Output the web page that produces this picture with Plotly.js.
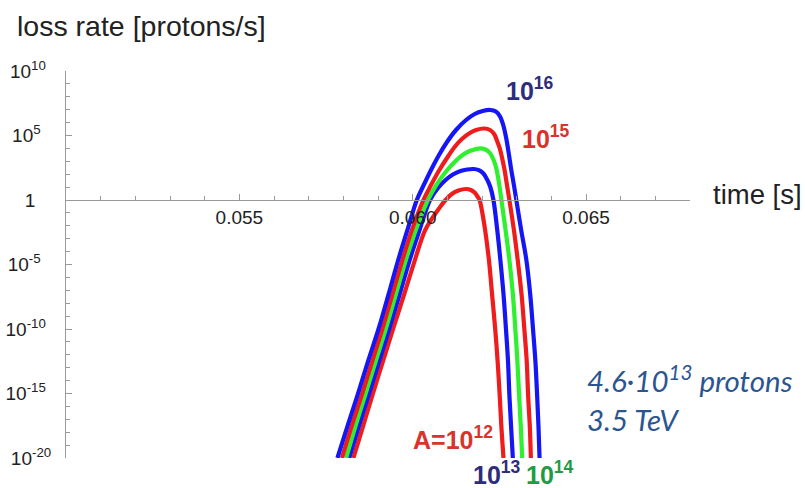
<!DOCTYPE html>
<html>
<head>
<meta charset="utf-8">
<script src="https://cdn.plot.ly/plotly-3.0.1.min.js"></script>
<style>
  html, body { margin: 0; padding: 0; background: #ffffff; }
  #chart { width: 805px; height: 488px; }
</style>
</head>
<body>
<div id="chart"></div>
<script>
// ---- data (time in s, loss rate in protons/s) ----
const t_A12 = [0.05829, 0.05857, 0.05884, 0.05914, 0.05944, 0.05975, 0.06005, 0.06035, 0.06055, 0.06076, 0.06095, 0.06113, 0.06132, 0.06154,
               0.06168, 0.06180, 0.06187, 0.06193, 0.06201, 0.06209, 0.06220, 0.06229, 0.06238, 0.06245, 0.06251, 0.06256, 0.06262];
const rate_A12 = [1e-20, 3.0e-18, 7.6e-16, 3.0e-13, 1.1e-10, 4.4e-8, 1.7e-5, 4.0e-3, 3.37e-2, 0.219, 1, 2.92, 5.45, 7.12,
                  5.96, 3.49, 1.87, 1, 9.8e-2, 4.72e-3, 2.23e-5, 5.17e-8, 1.1e-10, 3.3e-13, 7.6e-16, 2.5e-18, 1e-20];

const t_A13 = [0.05817, 0.05845, 0.05873, 0.05903, 0.05933, 0.05962, 0.05990, 0.06019, 0.06050, 0.06073, 0.06095, 0.06116, 0.06138, 0.06157, 0.06175,
               0.06191, 0.06204, 0.06214, 0.06224, 0.06233, 0.06244, 0.06253, 0.06262, 0.06269, 0.06275, 0.06279, 0.06284, 0.06289];
const rate_A13 = [1e-20, 3.0e-18, 7.6e-16, 3.0e-13, 1.1e-10, 4.4e-8, 1.7e-5, 4.0e-3, 1, 8.5, 35.5, 94.8, 177, 231, 253,
                  204, 113, 42.5, 10.2, 1, 4.72e-3, 2.23e-5, 5.17e-8, 1.1e-10, 3.3e-13, 7.6e-16, 2.5e-18, 1e-20];

const t_A14 = [0.05808, 0.05835, 0.05863, 0.05893, 0.05923, 0.05951, 0.05979, 0.06008, 0.06044, 0.06068, 0.06095, 0.06121, 0.06144, 0.06164, 0.06195,
               0.06210, 0.06223, 0.06233, 0.06241, 0.06249, 0.06256, 0.06268, 0.06279, 0.06289, 0.06296, 0.06302, 0.06307, 0.06312, 0.06316];
const rate_A14 = [1e-20, 3.0e-18, 7.6e-16, 3.0e-13, 1.1e-10, 4.4e-8, 1.7e-5, 4.0e-3, 1, 14.5, 148, 883, 3080, 6290, 1.02e4,
                  8220, 4400, 1380, 303, 20.8, 1, 4.72e-3, 2.23e-5, 5.17e-8, 1.1e-10, 3.3e-13, 7.6e-16, 2.5e-18, 1e-20];

const t_A15 = [0.05796, 0.05824, 0.05853, 0.05883, 0.05913, 0.05941, 0.05969, 0.05997, 0.06031, 0.06053, 0.06077, 0.06099, 0.06121, 0.06142, 0.06165, 0.06183, 0.06207,
               0.06223, 0.06235, 0.06243, 0.06251, 0.06258, 0.06265, 0.06272, 0.06279, 0.06292, 0.06303, 0.06314, 0.06322, 0.06329, 0.06333, 0.06338, 0.06341];
const rate_A15 = [1e-20, 3.0e-18, 7.6e-16, 3.0e-13, 1.1e-10, 4.4e-8, 1.7e-5, 4.0e-3, 1, 14.5, 212, 1.8e3, 1.28e4, 5.35e4, 1.56e5, 2.67e5, 3.49e5,
                  2.67e5, 1.31e5, 4.09e4, 1.07e4, 1.8e3, 212, 14.5, 1, 4.72e-3, 2.23e-5, 5.17e-8, 1.1e-10, 3.3e-13, 7.6e-16, 2.5e-18, 1e-20];

const t_A16 = [0.05783, 0.05812, 0.05841, 0.05871, 0.05902, 0.05930, 0.05957, 0.05984, 0.06012, 0.06032, 0.06053, 0.06076, 0.06099, 0.06125, 0.06154, 0.06179, 0.06202, 0.06224,
               0.06240, 0.06252, 0.06262, 0.06270, 0.06277, 0.06284, 0.06292, 0.06299, 0.06313, 0.06328, 0.06339, 0.06347, 0.06354, 0.06359, 0.06363, 0.06366];
const rate_A16 = [1e-20, 3.0e-18, 7.6e-16, 3.0e-13, 1.1e-10, 4.4e-8, 1.7e-5, 4.0e-3, 1, 14.5, 212, 3080, 3.13e4, 2.67e5, 1.59e6, 4.64e6, 7.93e6, 9.48e6,
                  7.25e6, 2.97e6, 5.45e5, 5.85e4, 4.4e3, 253, 14.5, 1, 4.72e-3, 2.23e-5, 5.17e-8, 1.1e-10, 3.3e-13, 7.6e-16, 2.5e-18, 1e-20];

const seriesNames = ["A=10^12", "10^13", "10^14", "10^15", "10^16"];

// ---- tick labels ----
const xTickVals = [0.055, 0.060, 0.065];
const xTickText = ["0.055", "0.060", "0.065"];
const xMinorVals = [0.051, 0.052, 0.053, 0.054, 0.056, 0.057, 0.058, 0.059, 0.061, 0.062, 0.063, 0.064, 0.066, 0.067, 0.068];
const yTickVals = [1e-20, 1e-15, 1e-10, 1e-5, 1, 1e5, 1e10];
const yTickText = ["10<sup>-20</sup>", "10<sup>-15</sup>&nbsp;", "10<sup>-10</sup>&nbsp;", "10<sup>-5</sup>&nbsp;&nbsp;", "1&nbsp;&nbsp;&nbsp;", "10<sup>5</sup>&nbsp;&nbsp;", "10<sup>10</sup>&nbsp;"];
const yMinorVals = [1e-19, 1e-18, 1e-17, 1e-16, 1e-14, 1e-13, 1e-12, 1e-11, 1e-9, 1e-8, 1e-7, 1e-6, 1e-4, 1e-3, 1e-2, 1e-1, 1e1, 1e2, 1e3, 1e4, 1e6, 1e7, 1e8, 1e9];

// ---- styles ----
const RED = "#ee1c1c", BLUE = "#1616f4", GREEN = "#2ef02e";
const LW = 4.2;

function curve(x, y, color, name) {
  return {
    x: x, y: y, name: name, type: "scatter", mode: "lines",
    line: { color: color, width: LW, shape: "spline", smoothing: 1 },
    hoverinfo: "skip", showlegend: false
  };
}

const data = [
  curve(t_A12, rate_A12, RED, seriesNames[0]),
  curve(t_A13, rate_A13, BLUE, seriesNames[1]),
  curve(t_A14, rate_A14, GREEN, seriesNames[2]),
  curve(t_A15, rate_A15, RED, seriesNames[3]),
  curve(t_A16, rate_A16, BLUE, seriesNames[4])
];

const FONT = "Liberation Sans, Arial, Helvetica, sans-serif";
const AXC = "#9a9a9a";
const LABELRED = "#d8342c", NAVY = "#2e2c7c", LABELGREEN = "#1f9a45";

const layout = {
  width: 805, height: 488,
  margin: { l: 66, r: 115, t: 71, b: 30, pad: 0 },
  paper_bgcolor: "#ffffff", plot_bgcolor: "#ffffff",
  font: { family: FONT, size: 19, color: "#222222" },
  showlegend: false,
  hovermode: false,
  xaxis: {
    type: "linear", range: [0.050, 0.068],
    anchor: "free", position: 2 / 3,
    showgrid: false, zeroline: false,
    showline: true, linecolor: AXC, linewidth: 1,
    tickmode: "array", tickvals: xTickVals, ticktext: xTickText,
    ticks: "inside", ticklen: 6, tickcolor: AXC, tickwidth: 1,
    tickfont: { family: FONT, size: 19, color: "#222222" },
    minor: { tickmode: "array", tickvals: xMinorVals, ticks: "inside", ticklen: 4, tickcolor: AXC, tickwidth: 1, showgrid: false }
  },
  yaxis: {
    type: "log", range: [-20, 10],
    showgrid: false, zeroline: false,
    showline: true, linecolor: AXC, linewidth: 1,
    tickmode: "array", tickvals: yTickVals, ticktext: yTickText,
    ticks: "inside", ticklen: 6, tickcolor: AXC, tickwidth: 1,
    ticklabelstandoff: 10,
    tickfont: { family: FONT, size: 19, color: "#222222" },
    minor: { tickmode: "array", tickvals: yMinorVals, ticks: "inside", ticklen: 4, tickcolor: AXC, tickwidth: 1, showgrid: false }
  },
  annotations: [
    { text: "loss rate [protons/s]", xref: "paper", yref: "paper", x: -0.0817, y: 1.1163,
      xanchor: "left", yanchor: "middle", showarrow: false, font: { family: FONT, size: 28.5, color: "#222222" } },
    { text: "time [s]", xref: "paper", yref: "paper", x: 1.0337, y: 0.6796,
      xanchor: "left", yanchor: "middle", showarrow: false, font: { family: FONT, size: 27.5, color: "#222222" } },
    { text: "<b>10<sup>16</sup></b>", xref: "paper", yref: "paper", x: 0.7428, y: 0.9522,
      xanchor: "center", yanchor: "middle", showarrow: false, font: { family: FONT, size: 25, color: NAVY } },
    { text: "<b>10<sup>15</sup></b>", xref: "paper", yref: "paper", x: 0.7692, y: 0.8307,
      xanchor: "center", yanchor: "middle", showarrow: false, font: { family: FONT, size: 25, color: LABELRED } },
    { text: "<b>A=10<sup>12</sup></b>", xref: "paper", yref: "paper", x: 0.6202, y: 0.0504,
      xanchor: "center", yanchor: "middle", showarrow: false, font: { family: FONT, size: 25, color: LABELRED } },
    { text: "<b>10<sup>13</sup></b>", xref: "paper", yref: "paper", x: 0.6915, y: -0.0375,
      xanchor: "center", yanchor: "middle", showarrow: false, font: { family: FONT, size: 25, color: NAVY } },
    { text: "<b>10<sup>14</sup></b>", xref: "paper", yref: "paper", x: 0.7756, y: -0.0375,
      xanchor: "center", yanchor: "middle", showarrow: false, font: { family: FONT, size: 25, color: LABELGREEN } },
    { text: "<i>4.6·10<sup>13</sup> protons</i><br><i>3.5 TeV</i>", xref: "paper", yref: "paper", x: 0.8317, y: 0.1550,
      xanchor: "left", yanchor: "middle", align: "left", showarrow: false,
      font: { family: "Lato, Open Sans, sans-serif", size: 29.5, color: "#2b5591" } }
  ]
};

Plotly.newPlot("chart", data, layout, { staticPlot: true, displayModeBar: false });
</script>
</body>
</html>
